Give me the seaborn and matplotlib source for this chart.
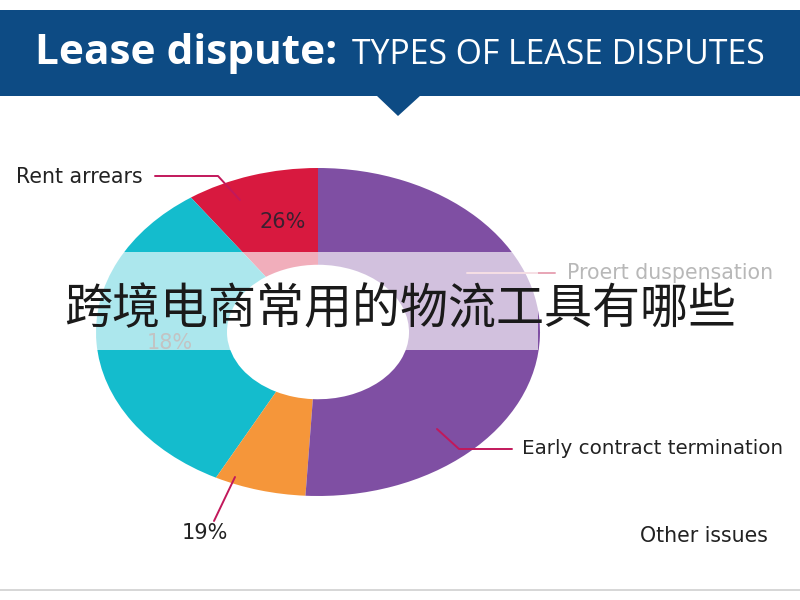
import matplotlib
matplotlib.use("Agg")
import matplotlib.pyplot as plt
from matplotlib.patches import Rectangle, Polygon
from matplotlib.lines import Line2D
import seaborn as sns

sns.set_theme(style="white")
plt.rcParams['font.family'] = ['DejaVu Sans', 'Noto Sans CJK SC']

# ---- data ----
categories = ["Rent arrears", "Other issues", "Proert duspensation", "Early contract termination"]
values = [9.7, 32.7, 6.7, 50.9]
colors = ["#d8193f", "#14bccd", "#f5963a", "#7f4fa3"]
pct_labels = ["26%", "18%", "19%"]
title_bold = "Lease dispute:"
title_rest = "TYPES OF LEASE DISPUTES"
overlay_text = "跨境电商常用的物流工具有哪些"

W, H = 800, 600
fig = plt.figure(figsize=(8, 6), dpi=100)
fig.patch.set_facecolor("white")

def fx(x):
    return x / W

def fy(y):
    return 1 - y / H

# header banner
fig.add_artist(Rectangle((0, fy(96)), 1, (96 - 10) / H, transform=fig.transFigure,
                         facecolor="#0d4b84", edgecolor="none", zorder=1))
fig.add_artist(Polygon([(fx(376), fy(95)), (fx(421), fy(95)), (fx(398), fy(116))],
                       closed=True, transform=fig.transFigure,
                       facecolor="#0d4b84", edgecolor="none", zorder=1))
fig.text(fx(35), fy(54), title_bold, color="white", fontsize=30.5, fontweight="bold",
         family=["Open Sans"], va="center", ha="left", zorder=2)
fig.text(fx(352), fy(55), title_rest, color="white", fontsize=24.3,
         family=["Open Sans"], va="center", ha="left", zorder=2)

# donut
ax = fig.add_axes([fx(96), fy(496), (540 - 96) / W, (496 - 168) / H])
ax.pie(values, colors=colors, startangle=90, counterclock=True,
       wedgeprops=dict(width=0.59, edgecolor="none"))
ax.set_aspect("auto")
ax.set_xlim(-1, 1)
ax.set_ylim(-1, 1)
ax.axis("off")

# percent labels
fig.text(fx(283), fy(222), pct_labels[0], fontsize=15, color="#3a2030", ha="center", va="center", zorder=3)
fig.text(fx(170), fy(343), pct_labels[1], fontsize=15, color="#555555", ha="center", va="center", zorder=3)
fig.text(fx(205), fy(533), pct_labels[2], fontsize=15, color="#222222", ha="center", va="center", zorder=3)

# category labels
fig.text(fx(16), fy(177), categories[0], fontsize=14.8, color="#222222", ha="left", va="center", zorder=3)
fig.text(fx(640), fy(536), categories[1], fontsize=14.8, color="#222222", ha="left", va="center", zorder=3)
fig.text(fx(567), fy(273), categories[2], fontsize=14.8, color="#b8b8b8", ha="left", va="center", zorder=3)
fig.text(fx(522), fy(449), categories[3], fontsize=14.3, color="#222222", ha="left", va="center", zorder=3)

# leader lines
lc = "#c2185b"
def leader(pts, color=lc, lw=1.4):
    fig.add_artist(Line2D([fx(p[0]) for p in pts], [fy(p[1]) for p in pts],
                          transform=fig.transFigure, color=color, lw=lw, zorder=3))

leader([(155, 176), (218, 176), (240, 200)])
leader([(467, 273), (555, 273)], color="#e8a5b5")
leader([(437, 429), (459, 449), (512, 449)])
leader([(235, 477), (214, 521)])

# semi-transparent band and overlay text
fig.add_artist(Rectangle((fx(96), fy(350)), (538 - 96) / W, (350 - 252) / H,
                         transform=fig.transFigure, facecolor="white", alpha=0.65,
                         edgecolor="none", zorder=4))
fig.text(fx(400), fy(309), overlay_text, fontsize=34.6, color="#1a1a1a",
         family=['Noto Sans CJK SC', 'DejaVu Sans'], ha="center", va="center", zorder=5)

# bottom rule
fig.add_artist(Line2D([0, 1], [fy(590), fy(590)], transform=fig.transFigure,
                      color="#d0d0d0", lw=1.2, zorder=3))

fig.savefig("out.png", dpi=100)
